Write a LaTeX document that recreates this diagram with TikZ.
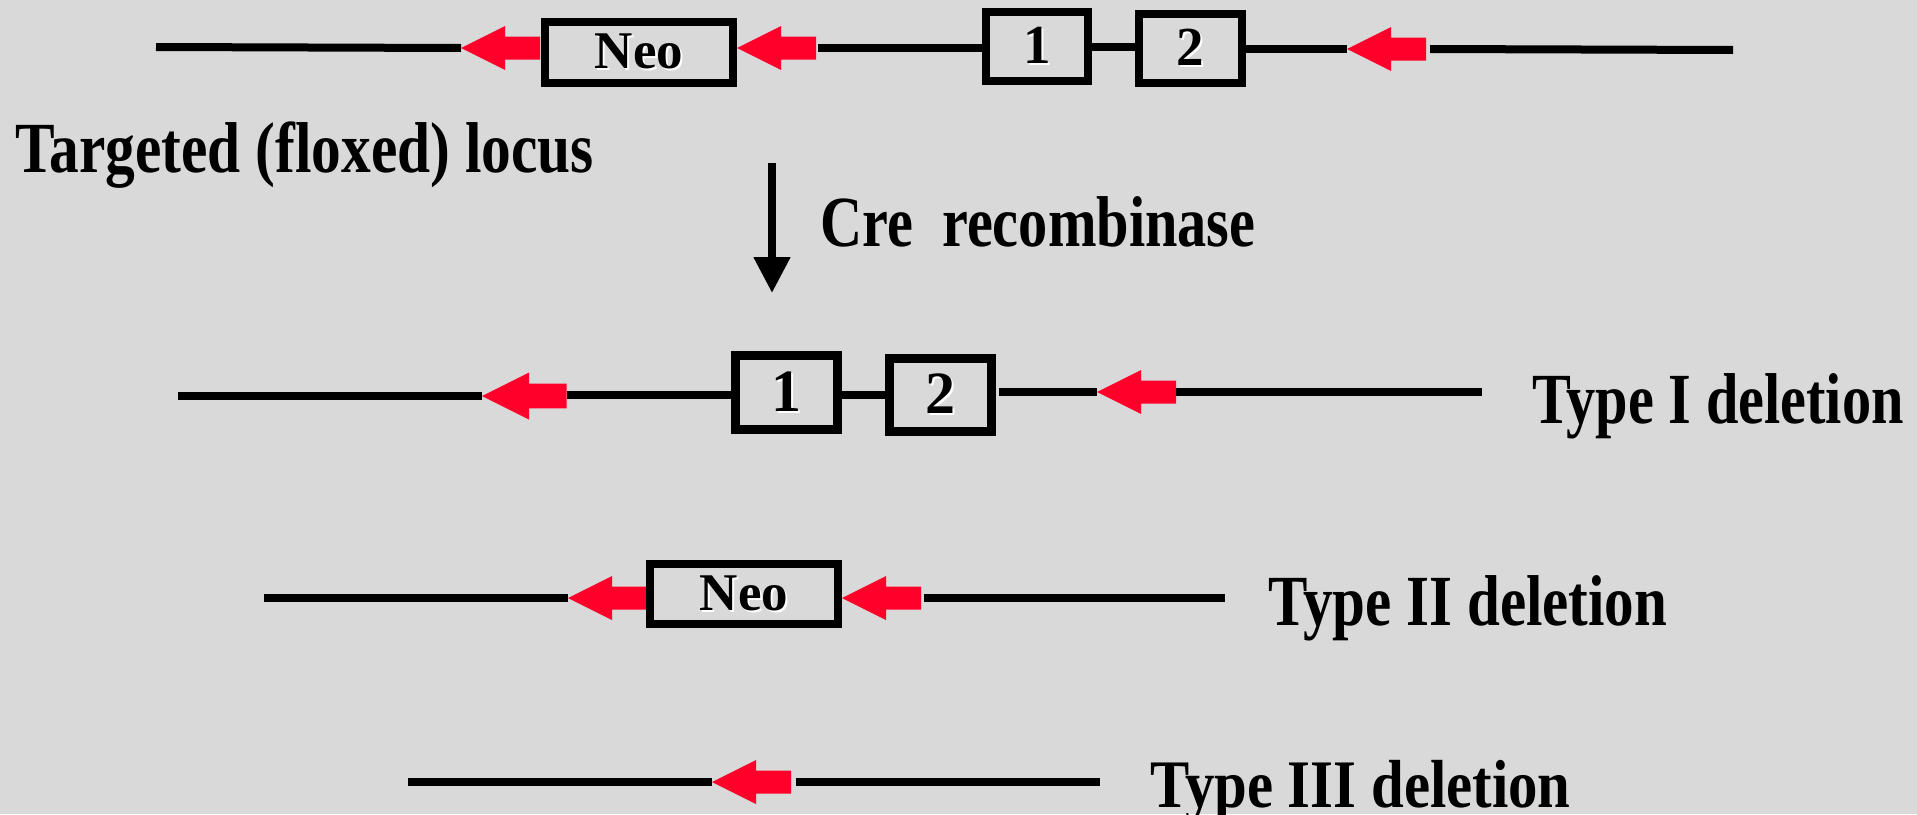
\documentclass[tikz,border=0pt]{standalone}
\usepackage{graphicx}
\usepackage{fontspec}
\setmainfont{Liberation Serif}
\usetikzlibrary{arrows.meta}

\definecolor{bg}{RGB}{217,217,217}
\definecolor{loxred}{RGB}{255,0,42}

% bold label with a thin white drop shadow
\newcommand\embossed[1]{\makebox[0pt][l]{\hspace{2pt}\raisebox{-2pt}{\color{white}#1}}#1}
% horizontally condensed text
\newcommand\condensed[2]{\scalebox{#1}[1]{#2}}

\tikzset{
  dna/.style={line width=8pt, line cap=butt},
  exon/.style={draw, line width=8pt, inner sep=0pt,
    font=\fontsize{55}{60}\selectfont\bfseries},
  neo/.style={exon, font=\fontsize{53}{58}\selectfont\bfseries},
  caption/.style={inner sep=0pt, anchor=base west,
    font=\fontsize{72}{80}\selectfont\bfseries},
  loxp/.pic={
    \fill[loxred] (0,0) -- (44,-22) -- (44,-11.5) -- (79,-11.5)
      -- (79,11.5) -- (44,11.5) -- (44,22) -- cycle;
    \coordinate (-tip) at (0,0);
    \coordinate (-tail) at (79,0);
  },
}

\begin{document}
\begin{tikzpicture}[x=1pt, y=-1pt]
\fill[bg] (0,0) rectangle (1917,814);
\useasboundingbox (0,0) rectangle (1917,814);

% ---- targeted (floxed) locus ----
\coordinate (r1a) at (156,47);
\pic (la) at (461,48) {loxp};
\node[neo, minimum width=188pt, minimum height=61pt] (neoA) at (639,52.5) {\embossed{Neo}};
\pic (lb) at (737,48) {loxp};
\node[exon, minimum width=102pt, minimum height=69pt] (e1A) at (1037,46.5) {\embossed{1}};
\node[exon, minimum width=103pt, minimum height=69pt] (e2A) at (1190.5,48.5) {\embossed{2}};
\pic (lc) at (1347,49) {loxp};
\coordinate (r1z) at (1733,50);

\draw[dna] (r1a) -- (la-tip);
\draw[dna] ([xshift=2pt]lb-tail) -- (e1A.west |- lb-tail);
\draw[dna] (e1A.east) -- (e1A.east -| e2A.west);
\draw[dna] (e2A.east |- lc-tip) -- (lc-tip);
\draw[dna] ([xshift=4pt]lc-tail) -- (r1z);

\node[caption] (title) at (15,172)
  {\condensed{0.825}{Targeted (floxed) locus}};

% ---- Cre step ----
\coordinate (creTop) at (772,163);
\coordinate (creTip) at (772,293);
\draw[line width=8pt, -{Triangle[width=35pt,length=36pt]}] (creTop) -- (creTip);
\node[caption] (cre) at (820,246)
  {\condensed{0.81}{Cre\hspace{36pt}recombinase}};

% ---- type I deletion ----
\coordinate (r2a) at (178,396);
\pic[scale=1.07] (ld) at (482,396) {loxp};
\node[exon, minimum width=102pt, minimum height=74pt, line width=9pt,
  font=\fontsize{60}{66}\selectfont\bfseries] (e1B) at (786.5,392.5) {\embossed{1}};
\node[exon, minimum width=102pt, minimum height=73pt, line width=9pt,
  font=\fontsize{60}{66}\selectfont\bfseries] (e2B) at (940.5,395) {\embossed{2}};
\pic (le) at (1097,392) {loxp};
\coordinate (r2z) at (1482,392);

\draw[dna] (r2a) -- (ld-tip);
\draw[dna] (ld-tail |- 0,395) -- (e1B.west |- 0,395);
\draw[dna] (e1B.east |- 0,395) -- (e2B.west |- 0,395);
\draw[dna] ([xshift=3pt]e2B.east |- le-tip) -- (le-tip);
\draw[dna] (le-tail) -- (r2z);

\node[caption] (t1) at (1532,423) {\condensed{0.81}{Type I deletion}};

% ---- type II deletion ----
\coordinate (r3a) at (264,598);
\pic (lf) at (568,598) {loxp};
\node[neo, minimum width=188pt, minimum height=60pt] (neoC) at (744,594) {\embossed{Neo}};
\pic (lg) at (842,598) {loxp};
\coordinate (r3z) at (1225,598);

\draw[dna] (r3a) -- (lf-tip);
\draw[dna] ([xshift=3pt]lg-tail) -- (r3z);

\node[caption] (t2) at (1268,625) {\condensed{0.82}{Type II deletion}};

% ---- type III deletion ----
\coordinate (r4a) at (408,782);
\pic (lh) at (712,782) {loxp};
\coordinate (r4z) at (1100,782);

\draw[dna] (r4a) -- (lh-tip);
\draw[dna] ([xshift=5pt]lh-tail) -- (r4z);

\node[caption, font=\fontsize{68}{76}\selectfont\bfseries] (t3) at (1150,807)
  {\condensed{0.865}{Type III deletion}};
\end{tikzpicture}
\end{document}
